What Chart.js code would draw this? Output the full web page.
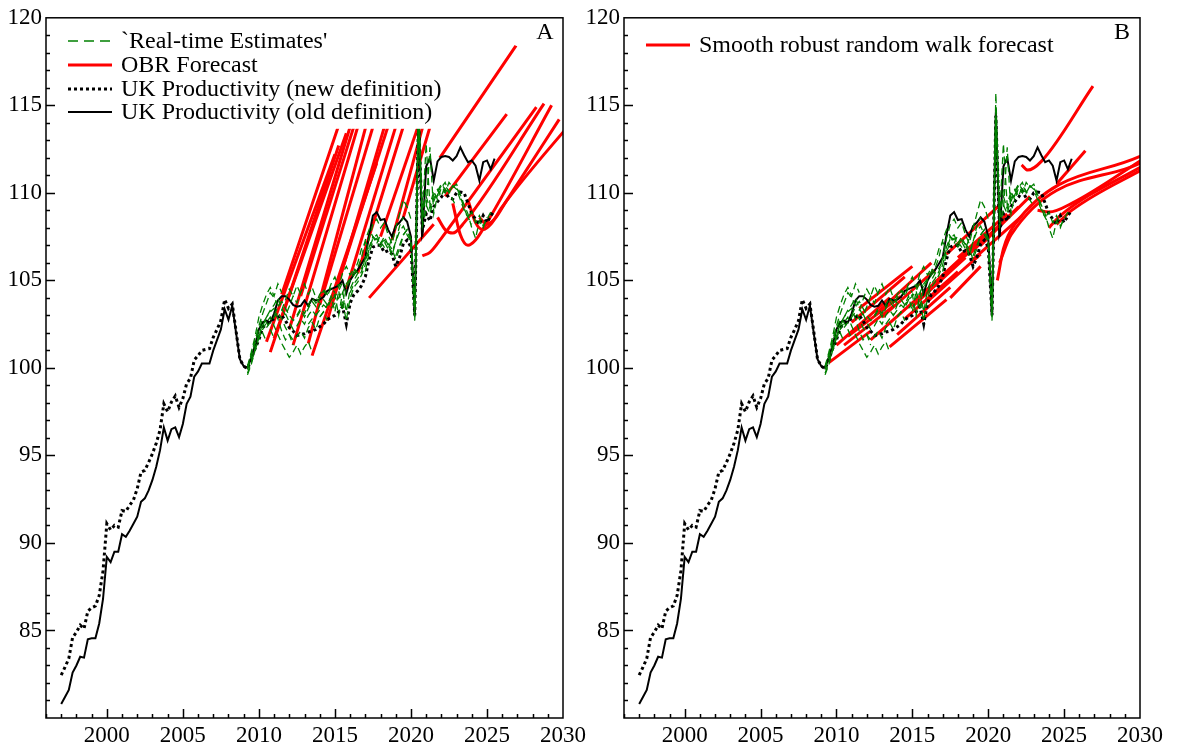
<!DOCTYPE html>
<html lang="en">
<head>
<meta charset="UTF-8" />
<title>UK productivity: real-time estimates and forecasts</title>
<style>
  html, body { margin: 0; padding: 0; background: #fff; }
  .panel { position: absolute; top: 0; }
  #panelA { left: 0; }
  #panelB { left: 580px; }
</style>
</head>
<body>
<div class="panel" id="panelA"><canvas id="chartA" width="600" height="749"></canvas></div>
<div class="panel" id="panelB"><canvas id="chartB" width="597" height="749"></canvas></div>
<script src="https://cdn.jsdelivr.net/npm/chart.js"></script>
<script>
// ---- data (quarterly, first quarter 1997) ----
const firstQuarter = 1997.0;
const oldDefinition = [
  80.8, 81.2, 81.6, 82.6,   83.0, 83.5, 83.45, 84.5,   84.55, 84.55, 85.4, 86.8,
  89.2, 88.9, 89.5, 89.5,   90.5, 90.35, 90.7, 91.1,   91.5, 92.35, 92.55, 93.0,
  93.6, 94.35, 95.3, 96.6,  95.85, 96.5, 96.6, 96.05,  96.8, 97.95, 98.35, 99.5,
  99.8, 100.25, 100.25, 100.25,  101.0, 101.6, 102.2, 103.35,  102.75, 103.55, 102.0, 100.5,
  100.1, 100.0, 100.6, 101.3,  102.2, 102.6, 102.7, 102.6,  103.1, 103.85, 104.1, 104.1,
  103.9, 103.6, 103.5, 103.55,  103.85, 103.55, 103.95, 103.85,  103.9, 104.05, 104.4, 104.5,
  104.6, 104.7, 105.0, 104.25,  105.0, 105.35, 105.6, 105.95,  106.3, 107.6, 108.7, 108.9,
  108.45, 108.5, 107.9, 107.5,  108.1, 108.3, 108.6, 108.35,  107.5, 103.0, 114.6, 107.5,
  111.5, 112.0, 110.7, 111.8,  112.05, 112.1, 112.05, 111.85,  112.1, 112.6, 112.15, 111.75,
  111.85, 111.55, 110.7, 111.75,  111.85, 111.35, 111.95
];
const newDefinition = [
  82.45, 82.9, 83.4, 84.6,  84.9, 85.3, 85.1, 86.1,  86.3, 86.4, 87.0, 88.4,
  91.1, 90.75, 91.0, 90.9,  91.85, 91.8, 92.15, 92.45,  93.1, 94.05, 94.15, 94.6,
  95.1, 95.7, 96.45, 97.95,  97.5, 98.05, 98.4, 97.75,  98.25, 99.1, 99.4, 100.45,
  100.7, 101.0, 101.05, 101.1,  101.75, 102.2, 102.7, 103.9,  103.4, 103.65, 102.1, 100.5,
  100.1, 99.95, 100.5, 101.1,  101.6, 102.3, 102.5, 102.7,  102.8, 102.9, 103.0, 102.7,
  102.3, 102.1, 101.85, 101.9,  101.95, 102.05, 102.1, 102.2,  102.35, 102.5, 102.75, 102.9,
  103.0, 103.2, 103.5, 102.5,  103.7, 104.2, 104.4, 104.7,  105.2, 106.2, 106.9, 107.0,
  107.0, 106.6, 106.7, 106.5,  105.8, 106.3, 107.1, 107.3,  106.9, 103.0, 114.4, 107.85,
  108.8, 108.4, 109.2, 109.5,  109.75, 110.1, 109.7, 109.65,  110.0, 110.05, 110.0, 109.4,
  108.8, 108.5, 108.2, 108.7,  108.3, 108.7, 109.0
];

// real-time vintages: first quarter of each, then quarterly values
const vintageStarts = [2009.25, 2009.25, 2009.25, 2009.25, 2009.25, 2009.5, 2010.0, 2010.5, 2011.0, 2011.75,
  2012.5, 2013.25, 2014.0, 2014.75, 2015.5, 2016.0, 2017.0, 2018.0, 2019.0, 2020.0, 2021.0, 2021.5];
const vintageValues = [
  [99.6, 100.2, 101.0, 101.7, 102.0, 101.5],
  [99.9, 100.6, 101.4, 102.2, 102.8, 102.6, 102.2, 101.7],
  [100.1, 100.9, 101.8, 102.9, 103.6, 104.2, 104.6, 104.1, 104.8, 104.3],
  [99.7, 100.3, 101.1, 101.9, 102.5, 102.9, 103.2, 103.4, 102.8, 102.1, 101.6, 101.9, 101.3],
  [100.0, 100.8, 101.6, 102.4, 103.1, 103.7, 104.3, 104.0, 103.6, 103.3, 103.9, 104.5, 104.1, 104.7, 104.2],
  [100.4, 101.0, 101.7, 102.2, 102.6, 102.9, 102.4, 101.9, 101.4, 101.0, 100.6, 100.9, 101.3, 100.8, 101.2, 101.5, 100.9],
  [101.8, 102.4, 102.9, 103.3, 103.6, 104.0, 103.4, 103.0, 103.5, 104.1, 103.7, 104.3, 104.8, 104.2, 104.6, 104.0, 103.7],
  [102.3, 102.6, 102.9, 103.2, 102.8, 102.3, 101.9, 101.6, 101.8, 102.1, 101.7, 102.3, 102.6, 102.2, 102.9, 103.2, 102.7],
  [103.0, 103.5, 103.8, 103.4, 103.0, 102.7, 102.9, 103.3, 102.9, 103.4, 103.8, 103.5, 104.0, 104.4, 104.1, 104.6, 104.3],
  [103.1, 102.6, 102.2, 102.4, 102.8, 102.5, 103.0, 103.3, 103.0, 103.6, 103.9, 103.6, 104.1, 103.2, 104.4, 104.9, 104.6],
  [103.0, 103.4, 103.1, 103.6, 104.0, 103.7, 104.2, 104.5, 104.2, 104.8, 105.2, 104.6, 105.4, 105.8, 105.3, 105.7, 105.4],
  [102.5, 102.8, 103.0, 103.3, 103.6, 103.4, 103.9, 104.2, 103.0, 104.3, 104.8, 105.1, 105.5, 106.0, 106.8, 107.2, 106.8],
  [102.9, 103.2, 103.6, 103.9, 104.1, 104.4, 103.3, 104.6, 105.0, 105.3, 105.7, 106.3, 107.3, 107.9, 107.5, 107.1, 107.6],
  [103.4, 103.7, 104.0, 104.4, 103.2, 104.5, 105.0, 105.4, 105.7, 106.1, 106.9, 107.5, 107.3, 106.9, 107.2, 106.8, 107.4],
  [103.8, 102.7, 104.0, 104.6, 104.9, 105.3, 105.9, 106.8, 107.4, 107.6, 107.1, 107.5, 107.0, 106.4, 107.2, 108.1, 108.6],
  [104.3, 104.8, 105.1, 105.5, 106.3, 107.4, 108.2, 108.5, 108.0, 108.3, 107.6, 107.1, 108.0, 108.8, 109.6, 109.2, 108.5],
  [105.5, 106.6, 107.2, 107.4, 107.1, 107.3, 107.0, 106.6, 107.2, 107.8, 108.1, 107.6, 107.2, 102.7, 115.7, 108.3, 110.2],
  [107.2, 106.9, 107.1, 106.8, 106.2, 106.8, 107.6, 107.9, 107.2, 102.9, 114.8, 108.1, 109.0, 112.6, 108.8, 109.9, 110.3],
  [106.4, 107.0, 107.6, 107.9, 107.4, 103.4, 113.9, 108.9, 109.8, 109.1, 109.9, 110.2, 109.8, 110.4, 110.1, 109.6, 109.2],
  [107.2, 103.5, 114.3, 108.6, 112.8, 109.3, 110.1, 109.6, 110.3, 110.6, 110.0, 110.4, 110.2, 109.6, 109.0, 108.6, 108.2],
  [109.3, 108.8, 109.7, 110.0, 110.4, 110.0, 110.6, 110.3, 110.5, 109.9, 109.3, 108.8, 108.0, 107.4, 108.4, 108.0, 108.6],
  [109.5, 110.1, 110.5, 110.2, 110.0, 110.4, 110.3, 109.8, 109.1, 108.6, 108.9, 108.3, 108.7, 108.1, 108.5, 108.9]
];

// OBR forecasts: [year, index] knots
const obrForecasts = [
  [[2010.5, 101.5], [2015.0, 112.2]],
  [[2010.75, 100.9], [2015.25, 112.7]],
  [[2011.0, 101.7], [2015.75, 113.4]],
  [[2011.5, 104.2], [2015.5, 114.5]],
  [[2012.0, 102.2], [2016.25, 114.5]],
  [[2012.25, 101.3], [2016.75, 114.5]],
  [[2012.75, 104.1], [2016.5, 114.5]],
  [[2013.25, 101.4], [2017.25, 114.5]],
  [[2013.5, 100.7], [2017.75, 111.7]],
  [[2014.0, 103.6], [2017.75, 114.5]],
  [[2014.5, 102.7], [2018.5, 114.5]],
  [[2015.0, 104.3], [2018.75, 114.5]],
  [[2015.75, 104.5], [2019.25, 114.5]],
  [[2016.5, 105.4], [2019.75, 114.5]],
  [[2017.25, 104.0], [2021.5, 108.2]],
  [[2018.0, 107.5], [2020.75, 114.5]],
  [[2018.75, 107.3], [2021.0, 114.5]],
  [[2019.5, 108.6], [2021.5, 114.5]],
  [[2021.9, 112.0], [2026.9, 118.4]],
  [[2022.25, 109.8], [2026.3, 114.5]],
  [[2020.75, 106.4], [2021.25, 106.6], [2022.0, 107.4], [2023.0, 108.6], [2028.25, 114.9]],
  [[2021.75, 108.6], [2022.25, 107.9], [2022.75, 107.7], [2023.5, 108.3], [2028.75, 115.1]],
  [[2022.75, 109.4], [2023.25, 107.6], [2023.75, 107.0], [2024.25, 107.3], [2025.0, 108.3], [2029.25, 115.0]],
  [[2023.75, 109.6], [2024.25, 108.3], [2024.75, 107.9], [2025.25, 108.2], [2026.0, 109.2], [2031.0, 114.5]],
  [[2024.5, 108.6], [2025.0, 108.2], [2025.5, 108.5], [2026.25, 109.5], [2029.75, 114.2]]
];

// smooth robust random walk forecasts
const rwForecasts = [
  [[2009.5, 100.3], [2012.25, 102.1]],
  [[2010.0, 101.3], [2013.5, 104.0]],
  [[2010.5, 101.3], [2013.85, 103.6]],
  [[2010.75, 101.8], [2014.25, 104.1]],
  [[2011.0, 102.6], [2014.5, 105.2]],
  [[2011.5, 103.4], [2015.0, 105.8]],
  [[2012.25, 101.6], [2015.75, 104.3]],
  [[2012.75, 103.2], [2016.25, 106.0]],
  [[2013.0, 102.9], [2016.5, 105.6]],
  [[2013.5, 101.2], [2017.25, 103.9]],
  [[2014.0, 101.9], [2017.5, 104.6]],
  [[2014.5, 102.8], [2018.0, 105.5]],
  [[2015.0, 103.5], [2018.5, 106.3]],
  [[2015.75, 104.3], [2019.25, 107.0]],
  [[2016.0, 103.8], [2019.5, 106.5]],
  [[2016.5, 104.9], [2020.0, 107.7]],
  [[2017.5, 104.0], [2019.5, 105.8]],
  [[2017.25, 106.5], [2020.75, 109.3]],
  [[2018.0, 106.3], [2021.25, 108.8]],
  [[2018.75, 106.5], [2022.0, 109.2]],
  [[2019.0, 106.2], [2022.25, 108.7]],
  [[2019.5, 107.0], [2022.75, 109.8]],
  [[2022.2, 111.6], [2022.6, 111.3], [2023.5, 111.8], [2026.9, 116.1]],
  [[2024.5, 110.5], [2026.4, 112.4]],
  [[2020.6, 105.0], [2021.0, 106.8], [2021.75, 108.2], [2030.5, 112.3]],
  [[2020.75, 106.0], [2021.5, 107.6], [2030.5, 111.9]],
  [[2023.25, 109.0], [2024.0, 108.9], [2025.5, 109.4], [2030.5, 112.1]],
  [[2024.0, 108.0], [2024.75, 108.7], [2030.5, 111.7]],
  [[2024.5, 108.2], [2025.5, 109.0], [2030.5, 111.5]]
];

const xTickValues = [2000, 2005, 2010, 2015, 2020, 2025, 2030];
const yTickValues = [85, 90, 95, 100, 105, 110, 115, 120];

// ---- styling ----
const FONT = "'Liberation Serif', 'Times New Roman', serif";
const RED = '#ff0000', GREEN = '#008000', BLACK = '#000000';

const quarterly = (start, vals) => vals.map((v, i) => ({ x: start + i * 0.25, y: v }));
const knots = pts => pts.map(p => ({ x: p[0], y: p[1] }));

function buildDatasets(forecasts) {
  const sets = [];
  vintageValues.forEach((vals, i) => {
    sets.push({ data: quarterly(vintageStarts[i], vals), borderColor: GREEN, borderWidth: 1.3,
      borderDash: [7, 4], order: 1 });
  });
  sets.push({ data: quarterly(firstQuarter, newDefinition), borderColor: BLACK, borderWidth: 3,
    borderDash: [3, 3], order: 2 });
  sets.push({ data: quarterly(firstQuarter, oldDefinition), borderColor: BLACK, borderWidth: 2, order: 3 });
  forecasts.forEach(f => {
    sets.push({ data: knots(f), borderColor: RED, borderWidth: 3, tension: 0.4,
      cubicInterpolationMode: 'monotone', order: 4 });
  });
  return sets;
}

// axes frame with inward ticks, legend and panel letter
function framePlugin(letter, legendItems, legendBox) {
  return {
    id: 'frame' + letter,
    afterDatasetsDraw(chart) {
      const { ctx, chartArea: a } = chart;
      ctx.save();
      if (legendBox) {
        ctx.fillStyle = '#fff';
        ctx.fillRect(a.left, a.top, legendBox - a.left, 111);
      }
      ctx.font = '24px ' + FONT;
      ctx.textBaseline = 'middle';
      legendItems.forEach(it => {
        ctx.beginPath();
        ctx.strokeStyle = it.color;
        ctx.lineWidth = it.width;
        ctx.setLineDash(it.dash);
        ctx.moveTo(a.left + it.x0, it.y);
        ctx.lineTo(a.left + it.x1, it.y);
        ctx.stroke();
        ctx.setLineDash([]);
        ctx.fillStyle = BLACK;
        ctx.textAlign = 'left';
        ctx.fillText(it.text, a.left + it.x1 + 9, it.y + 1);
      });
      ctx.textAlign = 'center';
      ctx.fillStyle = BLACK;
      ctx.fillText(letter, a.right - 18, 33);
      ctx.restore();
    },
    afterDraw(chart) {
      const { ctx, chartArea: a, scales: { x, y } } = chart;
      ctx.save();
      ctx.strokeStyle = BLACK;
      ctx.lineWidth = 1.5;
      ctx.strokeRect(a.left, a.top, a.right - a.left, a.bottom - a.top);
      ctx.beginPath();
      for (let yr = Math.ceil(x.min); yr < x.max; yr++) {
        const px = Math.round(x.getPixelForValue(yr)) + 0.5;
        const len = yr % 5 === 0 ? 9 : 4;
        ctx.moveTo(px, a.bottom);
        ctx.lineTo(px, a.bottom - len);
      }
      for (let v = y.min + 1; v < y.max; v++) {
        const py = Math.round(y.getPixelForValue(v)) + 0.5;
        const len = v % 5 === 0 ? 9 : 4;
        ctx.moveTo(a.left, py);
        ctx.lineTo(a.left + len, py);
      }
      ctx.stroke();
      ctx.restore();
    }
  };
}

function makeChart(id, forecasts, yWidth, padRight, plugin) {
  return new Chart(document.getElementById(id), {
    type: 'line',
    data: { datasets: buildDatasets(forecasts) },
    options: {
      responsive: false,
      animation: false,
      parsing: false,
      normalized: true,
      layout: { padding: { left: 0, right: padRight, top: 17, bottom: 0 } },
      elements: { point: { radius: 0 }, line: { fill: false } },
      plugins: { legend: { display: false }, tooltip: { enabled: false } },
      scales: {
        x: {
          type: 'linear', min: 1996, max: 2030,
          afterBuildTicks: s => { s.ticks = xTickValues.map(v => ({ value: v })); },
          afterFit: s => { s.height = 31; },
          ticks: { color: BLACK, font: { family: FONT, size: 23 }, padding: 4, maxRotation: 0,
            autoSkip: false, callback: v => String(v) },
          grid: { display: false, drawTicks: false },
          border: { display: false }
        },
        y: {
          min: 80, max: 120,
          afterBuildTicks: s => { s.ticks = yTickValues.map(v => ({ value: v })); },
          afterFit: s => { s.width = yWidth; },
          ticks: { color: BLACK, font: { family: FONT, size: 23 }, padding: 4,
            callback: v => String(v) },
          grid: { display: false, drawTicks: false },
          border: { display: false }
        }
      }
    },
    plugins: [plugin]
  });
}

const legendA = [
  { text: "`Real-time Estimates'", color: GREEN, width: 1.5, dash: [10, 6], x0: 22, x1: 66, y: 41 },
  { text: 'OBR Forecast', color: RED, width: 3, dash: [], x0: 22, x1: 66, y: 65 },
  { text: 'UK Productivity (new definition)', color: BLACK, width: 3, dash: [3, 3], x0: 22, x1: 66, y: 89 },
  { text: 'UK Productivity (old definition)', color: BLACK, width: 2, dash: [], x0: 22, x1: 66, y: 112 }
];
const legendB = [
  { text: 'Smooth robust random walk forecast', color: RED, width: 3, dash: [], x0: 22, x1: 66, y: 45 }
];

makeChart('chartA', obrForecasts, 46, 37, framePlugin('A', legendA, 445));
makeChart('chartB', rwForecasts, 44, 37, framePlugin('B', legendB, 0));
</script>
</body>
</html>
